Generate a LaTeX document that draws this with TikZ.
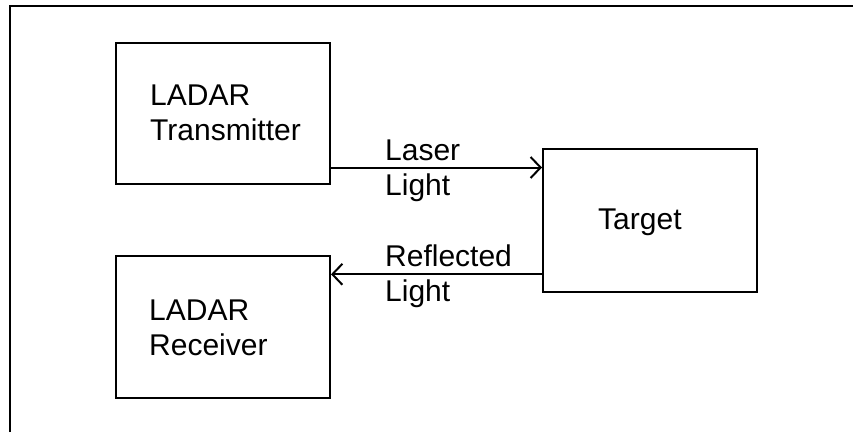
\documentclass[tikz,border=0pt]{standalone}
\usepackage{fontspec}
\setmainfont{Liberation Sans}
\usetikzlibrary{arrows.meta}
\begin{document}
\begin{tikzpicture}[x=1pt,y=-1pt,
  box/.style={draw=black,line width=2pt,minimum width=214pt,inner sep=0pt,rectangle},
  txt/.style={anchor=north west,inner sep=0pt,align=left,font=\fontsize{30}{35}\selectfont},
  conn/.style={line width=2pt,-{Straight Barb[length=10pt,width=21pt,line width=2pt]}}]
\useasboundingbox (0,0) rectangle (853,432);
\draw[line width=2.6pt] (10,432) -- (10,6) -- (853,6);
\node[box,minimum height=141pt] (tx) at (223,113.5) {};
\node[box,minimum height=142pt] (rx) at (223,327) {};
\node[box,minimum height=143pt] (tg) at (650,220.5) {};
\node[txt] (txl) at (150,85) {LADAR\\Transmitter};
\node[txt] (rxl) at (149,300) {LADAR\\Receiver};
\node[txt] (tgl) at (598,209) {Target};
\node[txt] (ll) at (385,140) {Laser\\Light};
\node[txt] (rl) at (385,245) {Reflected\\Light};
\coordinate (ya) at (0,167.5);
\coordinate (yb) at (0,274.3);
\draw[conn] (tx.east |- ya) -- (tg.west |- ya);
\draw[conn] (tg.west |- yb) -- (rx.east |- yb);
\end{tikzpicture}
\end{document}
